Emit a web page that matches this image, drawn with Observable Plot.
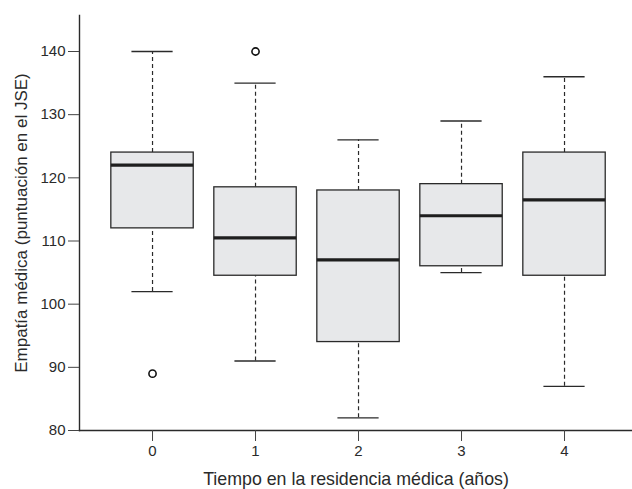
<!DOCTYPE html>
<html>
<head>
<meta charset="utf-8">
<script src="https://cdn.jsdelivr.net/npm/d3@7"></script>
<script src="https://cdn.jsdelivr.net/npm/@observablehq/plot@0.6"></script>
<style>
  html, body { margin: 0; padding: 0; background: #fff; }
  #chart svg { font-family: "Liberation Sans", Arial, Helvetica, sans-serif; }
  #chart svg [aria-label$="tick label"] { font-size: 15px; }
</style>
</head>
<body>
<div id="chart"></div>
<script>
const groups = [0, 1, 2, 3, 4];
const whiskerLow = [102, 91, 82, 105, 87];
const q1 = [112, 104.5, 94, 106, 104.5];
const median = [122, 110.5, 107, 114, 116.5];
const q3 = [124, 118.5, 118, 119, 124];
const whiskerHigh = [140, 135, 126, 129, 136];
const outlierGroup = [0, 1];
const outlierValue = [89, 140];
const yTicks = [80, 90, 100, 110, 120, 130, 140];
const xLabel = "Tiempo en la residencia médica (años)";
const yLabel = "Empatía médica (puntuación en el JSE)";

const boxes = groups.map((g, i) => ({
  g, lo: whiskerLow[i], q1: q1[i], med: median[i], q3: q3[i], hi: whiskerHigh[i]
}));
const outliers = outlierGroup.map((g, i) => ({ g, v: outlierValue[i] }));

const halfBox = 0.4, halfCap = 0.2;
const ink = "#2a2a2a";

const chart = Plot.plot({
  width: 632,
  height: 489,
  marginLeft: 79,
  marginTop: 15,
  marginBottom: 59,
  marginRight: 0,
  style: { background: "#fff", color: ink },
  x: { domain: [-0.709, 4.66] },
  y: { domain: [80, 145.7] },
  marks: [
    // whiskers (dashed)
    Plot.ruleX(boxes, { x: "g", y1: "q3", y2: "hi", stroke: ink, strokeWidth: 1.2, strokeDasharray: "4,3" }),
    Plot.ruleX(boxes, { x: "g", y1: "lo", y2: "q1", stroke: ink, strokeWidth: 1.2, strokeDasharray: "4,3" }),
    // caps
    Plot.ruleY(boxes, { y: "hi", x1: d => d.g - halfCap, x2: d => d.g + halfCap, stroke: ink, strokeWidth: 1.3 }),
    Plot.ruleY(boxes, { y: "lo", x1: d => d.g - halfCap, x2: d => d.g + halfCap, stroke: ink, strokeWidth: 1.3 }),
    // boxes
    Plot.rect(boxes, { x1: d => d.g - halfBox, x2: d => d.g + halfBox, y1: "q1", y2: "q3", fill: "#e7e8ea", stroke: ink, strokeWidth: 1.3 }),
    // medians
    Plot.ruleY(boxes, { y: "med", x1: d => d.g - halfBox, x2: d => d.g + halfBox, stroke: "#1e1e1e", strokeWidth: 3.2 }),
    // outliers
    Plot.dot(outliers, { x: "g", y: "v", r: 3.6, stroke: "#111", strokeWidth: 1.6, fill: "none" }),
    // axes lines
    Plot.frame({ anchor: "left", stroke: ink, strokeWidth: 1.4 }),
    Plot.frame({ anchor: "bottom", stroke: ink, strokeWidth: 1.4 }),
    // axes
    Plot.axisY({ ticks: yTicks, tickSize: 11, tickPadding: 3, fontSize: 15, label: null, stroke: "#444", fill: ink }),
    Plot.axisX({ ticks: groups, tickFormat: d3.format("d"), tickSize: 11, tickPadding: 4, fontSize: 15, label: null, stroke: "#444", fill: ink }),
    Plot.text([yLabel], { text: d => d, frameAnchor: "left", textAnchor: "middle", lineAnchor: "middle", rotate: -90, dx: -58, fontSize: 17, fill: ink }),
    Plot.text([xLabel], { text: d => d, frameAnchor: "bottom", textAnchor: "middle", lineAnchor: "middle", dy: 49, fontSize: 17.8, fill: ink })
  ]
});
document.getElementById("chart").appendChild(chart);
</script>
</body>
</html>
